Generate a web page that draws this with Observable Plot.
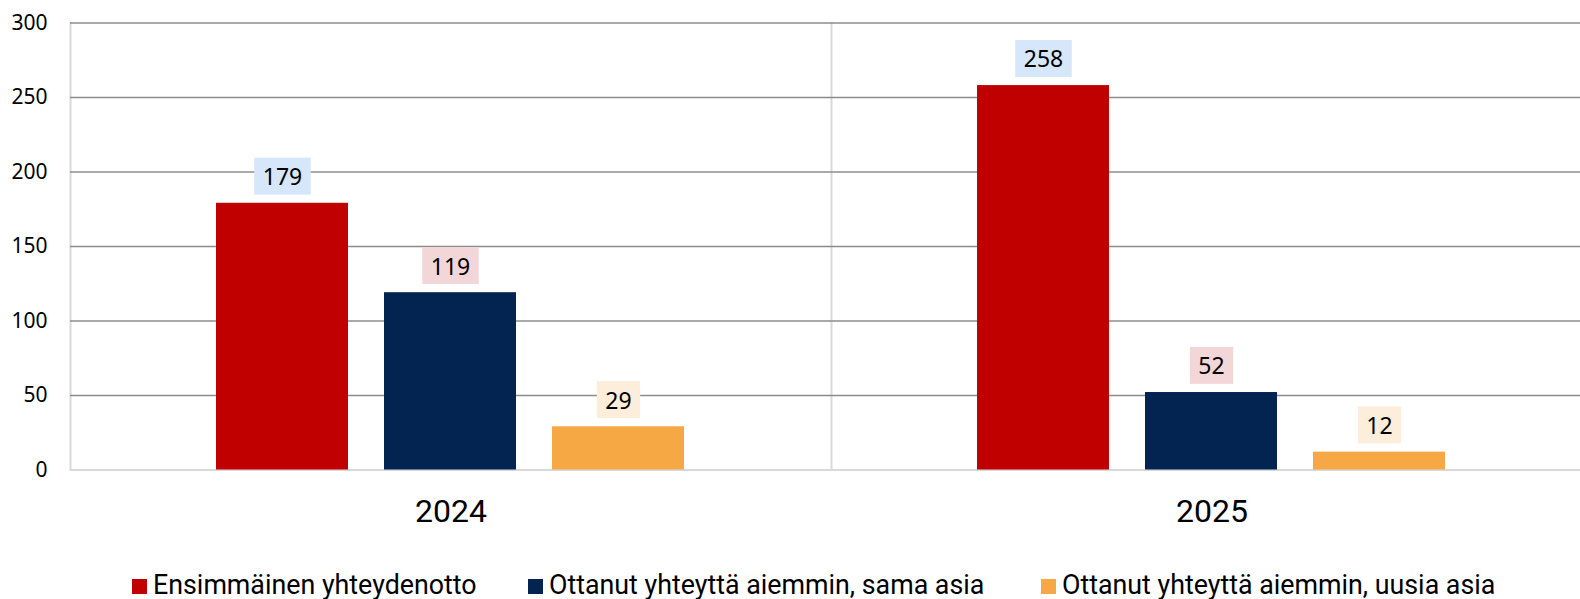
<!DOCTYPE html>
<html><head><meta charset="utf-8">
<script src="https://cdn.jsdelivr.net/npm/d3@7"></script>
<script src="https://cdn.jsdelivr.net/npm/@observablehq/plot@0.6"></script>
<style>
body{margin:0;background:#fff;overflow:hidden;}
#wrap{position:relative;width:1580px;height:599px;overflow:hidden;}
#chart{width:1580px;overflow:hidden;}
#chart svg{max-width:none !important;}
#legend{position:absolute;top:0;left:0;width:1580px;height:599px;pointer-events:none;font-family:Roboto,sans-serif;font-size:26.8px;color:#000;}
.sw{position:absolute;top:579px;width:15px;height:15px;}
.tx{position:absolute;top:571.5px;line-height:26px;white-space:nowrap;}
</style></head><body>
<div id="wrap"><div id="chart"></div><div id="legend"></div></div>
<script>
const years = ["2024", "2025"];
const series = ["Ensimmäinen yhteydenotto", "Ottanut yhteyttä aiemmin, sama asia", "Ottanut yhteyttä aiemmin, uusia asia"];
const values2024 = [179, 119, 29];
const values2025 = [258, 52, 12];
const yTicks = [0, 50, 100, 150, 200, 250, 300];
const colors = ["#c00000", "#032451", "#f5a843"];
const labelFills = ["#d6e6fb", "#f3d6d7", "#fdeedb"];
const legendLefts = [132, 528, 1041];

const data = [];
series.forEach((s, i) => data.push({year: years[0], series: s, value: values2024[i], idx: i}));
series.forEach((s, i) => data.push({year: years[1], series: s, value: values2025[i], idx: i}));

const plot = Plot.plot({
  width: 1592, height: 530,
  marginLeft: 70, marginRight: 0, marginTop: 22.5, marginBottom: 60.5,
  style: {fontFamily: "'Noto Sans'", fontSize: "21px", color: "#000", background: "#fff", overflow: "visible", maxWidth: "none"},
  fx: {domain: years, padding: 0, label: null},
  x: {domain: series, paddingInner: 0.213, paddingOuter: 0.866, axis: null},
  y: {domain: [0, 300], axis: null},
  color: {domain: series, range: colors},
  marks: [
    Plot.frame({anchor: "left", stroke: "#d9d9d9", strokeWidth: 2}),
    Plot.gridY(yTicks, {stroke: "#8c8c8c", strokeOpacity: 1, strokeWidth: 1.6}),
    Plot.ruleY([0], {stroke: "#d9d9d9", strokeWidth: 2}),
    Plot.barY(data, {fx: "year", x: "series", y: "value", fill: "series"}),
    Plot.text(data, {fx: "year", x: "series", y: "value", text: d => String(d.value), dy: -25.5, fontSize: 23, fill: "#000"}),
    Plot.axisY(yTicks, {tickSize: 0, tickPadding: 23, fontSize: 21, anchor: "left", label: null}),
    Plot.axisFx({anchor: "bottom", tickSize: 0, tickPadding: 29.5, fontSize: 32, fontFamily: "Roboto", label: null})
  ]
});
plot.style.maxWidth = "none";
document.getElementById("chart").append(plot);

// label backgrounds
const valueToIdx = new Map(data.map(d => [String(d.value), d.idx]));
plot.querySelectorAll('g[aria-label="text"] text').forEach(t => {
  const bb = t.getBBox();
  const idx = valueToIdx.get(t.textContent);
  const r = document.createElementNS("http://www.w3.org/2000/svg", "rect");
  const cy = bb.y + bb.height / 2;
  r.setAttribute("x", bb.x - 8.5);
  r.setAttribute("width", bb.width + 17);
  r.setAttribute("y", cy - 18.5);
  r.setAttribute("height", 37);
  r.setAttribute("fill", labelFills[idx] || "#eee");
  if (t.getAttribute("transform")) r.setAttribute("transform", t.getAttribute("transform"));
  t.parentNode.insertBefore(r, t);
});

// legend
const legend = document.getElementById("legend");
series.forEach((s, i) => {
  const sw = document.createElement("div");
  sw.className = "sw";
  sw.style.left = legendLefts[i] + "px";
  sw.style.background = colors[i];
  const tx = document.createElement("div");
  tx.className = "tx";
  tx.style.left = (legendLefts[i] + 21) + "px";
  tx.textContent = s;
  legend.append(sw, tx);
});
</script>
</body></html>
